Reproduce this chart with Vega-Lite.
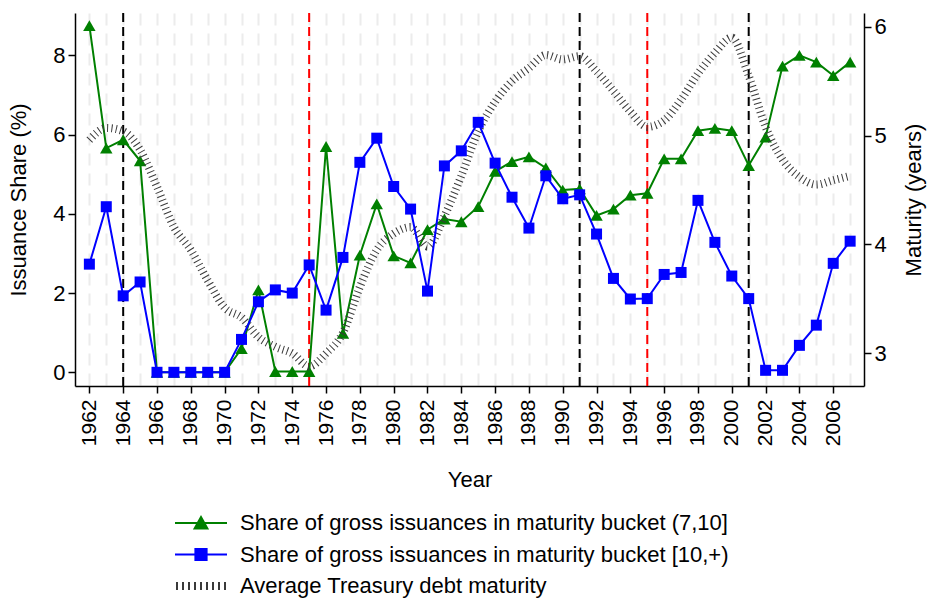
{
  "$schema": "https://vega.github.io/schema/vega-lite/v6.json",
  "width": 789,
  "height": 373,
  "autosize": "none",
  "padding": {"left": 75, "top": 13, "right": 63, "bottom": 214},
  "config": {
    "view": {"stroke": null},
    "font": "Liberation Sans",
    "axis": {
      "domainColor": "black", "tickColor": "black", "labelColor": "black", "titleColor": "black",
      "titleFontWeight": "normal", "domainWidth": 1.5, "tickWidth": 1.5,
      "labelFont": "Liberation Sans", "titleFont": "Liberation Sans"
    }
  },
  "datasets": {
    "main": [
      {"year": 1962, "share_7_10": 8.75, "share_10_plus": 2.73, "avg_maturity": 4.96},
      {"year": 1963, "share_7_10": 5.66, "share_10_plus": 4.18, "avg_maturity": 5.07},
      {"year": 1964, "share_7_10": 5.87, "share_10_plus": 1.93, "avg_maturity": 5.04},
      {"year": 1965, "share_7_10": 5.34, "share_10_plus": 2.28, "avg_maturity": 4.87},
      {"year": 1966, "share_7_10": 0.0, "share_10_plus": 0.0, "avg_maturity": 4.53},
      {"year": 1967, "share_7_10": 0.0, "share_10_plus": 0.0, "avg_maturity": 4.16},
      {"year": 1968, "share_7_10": 0.0, "share_10_plus": 0.0, "avg_maturity": 3.95},
      {"year": 1969, "share_7_10": 0.0, "share_10_plus": 0.0, "avg_maturity": 3.67},
      {"year": 1970, "share_7_10": 0.0, "share_10_plus": 0.0, "avg_maturity": 3.42},
      {"year": 1971, "share_7_10": 0.6, "share_10_plus": 0.83, "avg_maturity": 3.33},
      {"year": 1972, "share_7_10": 2.08, "share_10_plus": 1.78, "avg_maturity": 3.15},
      {"year": 1973, "share_7_10": 0.02, "share_10_plus": 2.08, "avg_maturity": 3.06},
      {"year": 1974, "share_7_10": 0.02, "share_10_plus": 2.0, "avg_maturity": 3.0},
      {"year": 1975, "share_7_10": 0.02, "share_10_plus": 2.71, "avg_maturity": 2.88},
      {"year": 1976, "share_7_10": 5.7, "share_10_plus": 1.57, "avg_maturity": 3.0},
      {"year": 1977, "share_7_10": 0.98, "share_10_plus": 2.9, "avg_maturity": 3.19},
      {"year": 1978, "share_7_10": 2.96, "share_10_plus": 5.3, "avg_maturity": 3.61},
      {"year": 1979, "share_7_10": 4.25, "share_10_plus": 5.91, "avg_maturity": 3.95},
      {"year": 1980, "share_7_10": 2.94, "share_10_plus": 4.69, "avg_maturity": 4.1},
      {"year": 1981, "share_7_10": 2.76, "share_10_plus": 4.12, "avg_maturity": 4.16},
      {"year": 1982, "share_7_10": 3.6, "share_10_plus": 2.05, "avg_maturity": 3.98},
      {"year": 1983, "share_7_10": 3.87, "share_10_plus": 5.21, "avg_maturity": 4.26},
      {"year": 1984, "share_7_10": 3.8, "share_10_plus": 5.59, "avg_maturity": 4.63},
      {"year": 1985, "share_7_10": 4.18, "share_10_plus": 6.31, "avg_maturity": 5.04},
      {"year": 1986, "share_7_10": 5.07, "share_10_plus": 5.28, "avg_maturity": 5.31},
      {"year": 1987, "share_7_10": 5.32, "share_10_plus": 4.42, "avg_maturity": 5.5},
      {"year": 1988, "share_7_10": 5.44, "share_10_plus": 3.64, "avg_maturity": 5.62},
      {"year": 1989, "share_7_10": 5.16, "share_10_plus": 4.96, "avg_maturity": 5.74},
      {"year": 1990, "share_7_10": 4.6, "share_10_plus": 4.38, "avg_maturity": 5.7},
      {"year": 1991, "share_7_10": 4.63, "share_10_plus": 4.48, "avg_maturity": 5.73},
      {"year": 1992, "share_7_10": 3.96, "share_10_plus": 3.49, "avg_maturity": 5.59},
      {"year": 1993, "share_7_10": 4.12, "share_10_plus": 2.37, "avg_maturity": 5.41},
      {"year": 1994, "share_7_10": 4.47, "share_10_plus": 1.85, "avg_maturity": 5.22},
      {"year": 1995, "share_7_10": 4.52, "share_10_plus": 1.86, "avg_maturity": 5.08},
      {"year": 1996, "share_7_10": 5.39, "share_10_plus": 2.47, "avg_maturity": 5.14},
      {"year": 1997, "share_7_10": 5.39, "share_10_plus": 2.52, "avg_maturity": 5.33},
      {"year": 1998, "share_7_10": 6.1, "share_10_plus": 4.34, "avg_maturity": 5.57},
      {"year": 1999, "share_7_10": 6.16, "share_10_plus": 3.28, "avg_maturity": 5.76},
      {"year": 2000, "share_7_10": 6.1, "share_10_plus": 2.43, "avg_maturity": 5.9},
      {"year": 2001, "share_7_10": 5.22, "share_10_plus": 1.86, "avg_maturity": 5.55},
      {"year": 2002, "share_7_10": 5.94, "share_10_plus": 0.05, "avg_maturity": 5.08},
      {"year": 2003, "share_7_10": 7.73, "share_10_plus": 0.05, "avg_maturity": 4.78},
      {"year": 2004, "share_7_10": 8.0, "share_10_plus": 0.68, "avg_maturity": 4.62},
      {"year": 2005, "share_7_10": 7.83, "share_10_plus": 1.19, "avg_maturity": 4.55},
      {"year": 2006, "share_7_10": 7.49, "share_10_plus": 2.75, "avg_maturity": 4.59},
      {"year": 2007, "share_7_10": 7.83, "share_10_plus": 3.31, "avg_maturity": 4.63}
    ],
    "black_events": [{"year": 1964}, {"year": 1991}, {"year": 2001}],
    "red_events": [{"year": 1975}, {"year": 1995}]
  },
  "encoding": {
    "x": {
      "field": "year", "type": "quantitative",
      "scale": {"domain": [1961.15, 2007.82], "nice": false, "zero": false},
      "axis": {
        "title": "Year", "titleFontSize": 22, "titlePadding": 24,
        "values": [1962,1963,1964,1965,1966,1967,1968,1969,1970,1971,1972,1973,1974,1975,1976,1977,1978,1979,1980,1981,1982,1983,1984,1985,1986,1987,1988,1989,1990,1991,1992,1993,1994,1995,1996,1997,1998,1999,2000,2001,2002,2003,2004,2005,2006,2007],
        "format": "d",
        "labelExpr": "datum.value % 2 === 0 ? datum.label : ''",
        "labelAngle": 270, "labelAlign": "right", "labelBaseline": "middle",
        "labelFontSize": 21, "labelPadding": 6, "labelOverlap": false,
        "tickSize": 7,
        "tickOpacity": {"condition": {"test": "datum.value % 2 === 0", "value": 1}, "value": 0},
        "grid": true, "gridColor": "#ececec", "gridWidth": 2, "gridDash": [12, 8]
      }
    }
  },
  "layer": [
    {
      "data": {"name": "black_events"},
      "mark": {"type": "rule", "color": "black", "strokeWidth": 2, "strokeDash": [9, 5]},
      "encoding": {}
    },
    {
      "data": {"name": "red_events"},
      "mark": {"type": "rule", "color": "#ff0000", "strokeWidth": 2, "strokeDash": [9, 5]},
      "encoding": {}
    },
    {
      "data": {"name": "main"},
      "mark": {"type": "line", "strokeWidth": 2, "point": {"shape": "triangle-up", "size": 155, "filled": true, "opacity": 1}},
      "encoding": {
        "y": {
          "field": "share_7_10", "type": "quantitative",
          "scale": {"domain": [-0.346, 9.07], "nice": false, "zero": false},
          "axis": {
            "title": "Issuance Share (%)", "titleFontSize": 22, "titlePadding": 22,
            "values": [0, 2, 4, 6, 8], "labelFontSize": 22, "labelPadding": 3, "tickSize": 7, "grid": false
          }
        },
        "color": {
          "datum": "Share of gross issuances in maturity bucket (7,10]",
          "scale": {
            "domain": ["Share of gross issuances in maturity bucket (7,10]", "Share of gross issuances in maturity bucket [10,+)", "Average Treasury debt maturity"],
            "range": ["#008000", "#0000ff", "#3a3a3a"]
          },
          "legend": {
            "orient": "none", "legendX": 100, "legendY": 499, "direction": "vertical",
            "title": null, "padding": 0, "labelFontSize": 22, "labelFont": "Liberation Sans", "labelColor": "black",
            "labelLimit": 900, "symbolSize": 256, "symbolOffset": 15, "labelOffset": 28, "rowPadding": 9.5,
            "symbolStrokeWidth": 2,
            "encode": {
              "symbols": {
                "update": {
                  "shape": {"signal": "indexof(datum.value, '(7,10]') >= 0 ? 'M-3.25,0H3.25M-0.8,0.7L0.8,0.7L0,-0.75Z' : (indexof(datum.value, '[10,+)') >= 0 ? 'M-3.25,0H3.25M-0.7,-0.7H0.7V0.7H-0.7Z' : 'M-3,-0.5V0.5M-2.25,-0.5V0.5M-1.5,-0.5V0.5M-0.75,-0.5V0.5M0,-0.5V0.5M0.75,-0.5V0.5M1.5,-0.5V0.5M2.25,-0.5V0.5M3,-0.5V0.5')"},
                  "fill": {"signal": "indexof(datum.value, '(7,10]') >= 0 ? '#008000' : (indexof(datum.value, '[10,+)') >= 0 ? '#0000ff' : 'transparent')"},
                  "stroke": {"signal": "indexof(datum.value, '(7,10]') >= 0 ? '#008000' : (indexof(datum.value, '[10,+)') >= 0 ? '#0000ff' : '#a0a0a0')"},
                  "opacity": {"value": 1}
                }
              }
            }
          }
        }
      }
    },
    {
      "data": {"name": "main"},
      "mark": {"type": "line", "strokeWidth": 8, "strokeDash": [1, 3.4], "interpolate": "monotone"},
      "encoding": {
        "y": {
          "field": "avg_maturity", "type": "quantitative",
          "scale": {"domain": [2.7, 6.126], "nice": false, "zero": false},
          "axis": {
            "orient": "right", "title": "Maturity (years)", "titleFontSize": 22, "titleAngle": 270, "titleBaseline": "top", "titlePadding": 17,
            "values": [3, 4, 5, 6], "labelFontSize": 22, "labelPadding": 3, "tickSize": 7, "grid": false
          }
        },
        "color": {
          "datum": "Average Treasury debt maturity",
          "scale": {
            "domain": ["Share of gross issuances in maturity bucket (7,10]", "Share of gross issuances in maturity bucket [10,+)", "Average Treasury debt maturity"],
            "range": ["#008000", "#0000ff", "#3a3a3a"]
          }
        }
      }
    },
    {
      "data": {"name": "main"},
      "mark": {"type": "line", "strokeWidth": 2, "point": {"shape": "square", "size": 121, "filled": true, "opacity": 1}},
      "encoding": {
        "y": {
          "field": "share_10_plus", "type": "quantitative",
          "scale": {"domain": [-0.346, 9.07], "nice": false, "zero": false},
          "axis": null
        },
        "color": {
          "datum": "Share of gross issuances in maturity bucket [10,+)",
          "scale": {
            "domain": ["Share of gross issuances in maturity bucket (7,10]", "Share of gross issuances in maturity bucket [10,+)", "Average Treasury debt maturity"],
            "range": ["#008000", "#0000ff", "#3a3a3a"]
          }
        }
      }
    }
  ],
  "resolve": {"scale": {"y": "independent"}}
}
